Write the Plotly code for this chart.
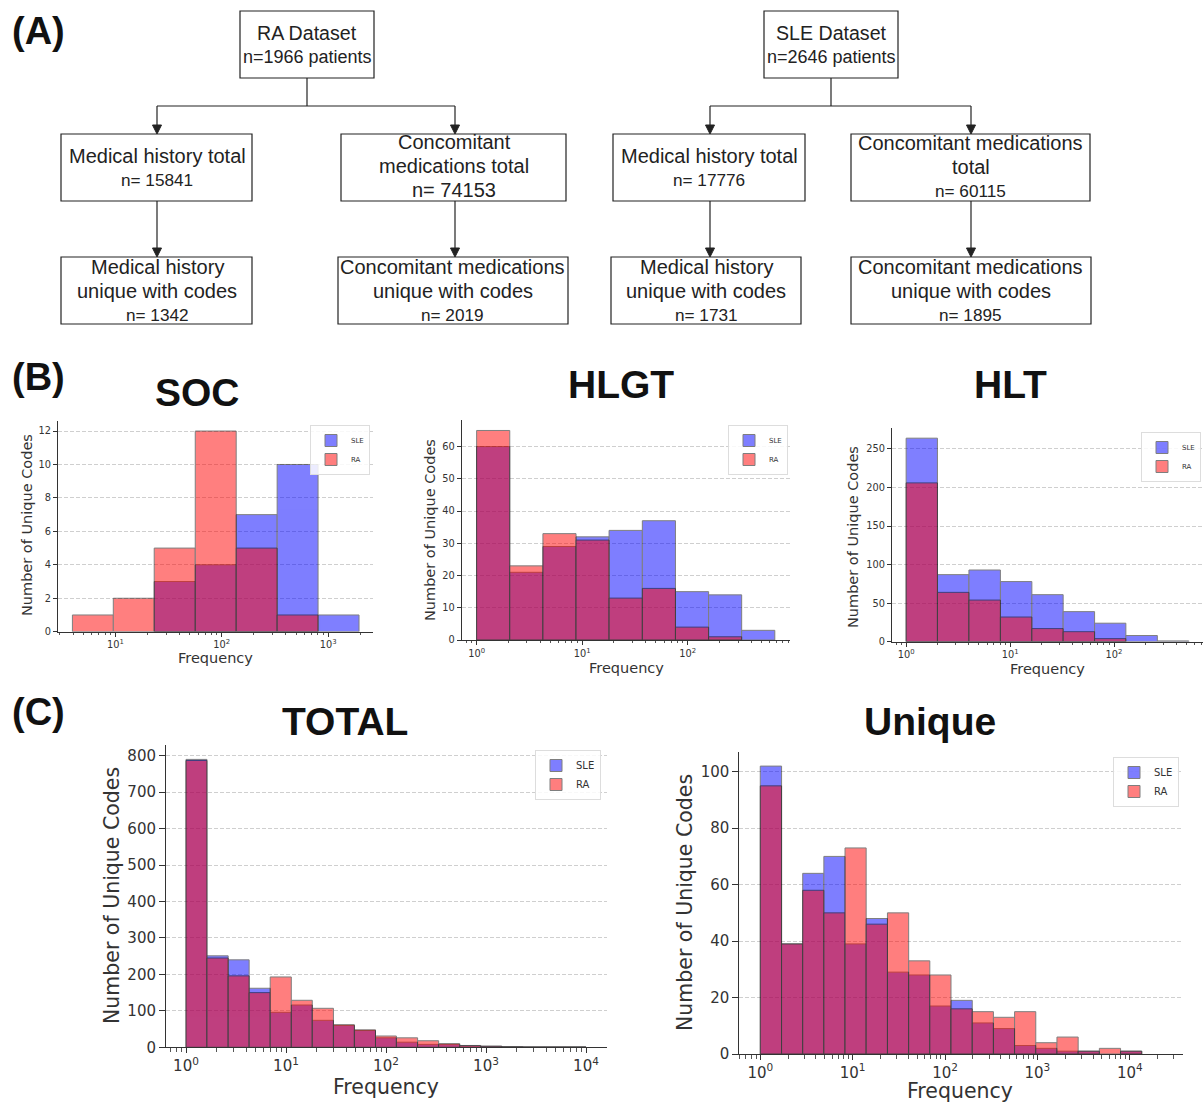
import numpy as np
import plotly.graph_objects as go

W, H = 1203, 1104

# ---------------- DATA ----------------
# Flowchart (A)
ra_dataset = ["RA Dataset", "n=1966 patients"]
ra_mh_total = ["Medical history total", "n= 15841"]
ra_cm_total = ["Concomitant", "medications total", "n= 74153"]
ra_mh_unique = ["Medical history", "unique with codes", "n= 1342"]
ra_cm_unique = ["Concomitant medications", "unique with codes", "n= 2019"]
sle_dataset = ["SLE Dataset", "n=2646 patients"]
sle_mh_total = ["Medical history total", "n= 17776"]
sle_cm_total = ["Concomitant medications", "total", "n= 60115"]
sle_mh_unique = ["Medical history", "unique with codes", "n= 1731"]
sle_cm_unique = ["Concomitant medications", "unique with codes", "n= 1895"]

series_names = ["SLE", "RA"]

# (B) SOC
soc_edges = [3.95, 9.57, 23.2, 56.4, 136.8, 332, 805, 1954]
soc_sle = [0, 0, 3, 4, 7, 10, 1]
soc_ra = [1, 2, 5, 12, 5, 1, 0]
# (B) HLGT
hlgt_edges = [1, 2.06, 4.25, 8.75, 18.0, 37.2, 76.6, 158, 325, 670]
hlgt_sle = [60, 21, 29, 32, 34, 37, 15, 14, 3]
hlgt_ra = [65, 23, 33, 31, 13, 16, 4, 1, 0]
# (B) HLT
hlt_edges = [1, 2.0, 4.02, 8.07, 16.2, 32.4, 65.0, 130, 261, 524]
hlt_sle = [264, 87, 93, 78, 61, 39, 24, 8, 1]
hlt_ra = [206, 64, 54, 32, 17, 13, 4, 0, 0]
# (C) TOTAL
total_edges = [1, 1.62, 2.64, 4.28, 6.95, 11.3, 18.3, 29.8, 48.3, 78.5, 127, 207,
               336, 546, 886, 1438, 2336, 3793, 6158, 10000]
total_sle = [790, 251, 240, 162, 96, 116, 74, 60, 46, 26, 14, 8, 8, 4, 3, 2, 1, 1, 1]
total_ra = [787, 245, 196, 150, 193, 129, 107, 62, 48, 31, 26, 18, 10, 5, 3, 1, 1, 1, 1]
# (C) Unique
unique_edges = [1, 1.70, 2.88, 4.88, 8.27, 14.0, 23.8, 40.4, 68.4, 116, 197, 334,
                566, 960, 1628, 2762, 4684, 7944, 13473]
unique_sle = [102, 39, 64, 70, 39, 48, 29, 28, 17, 19, 11, 9, 3, 2, 1, 1, 0, 1]
unique_ra = [95, 39, 58, 50, 73, 46, 50, 33, 28, 16, 15, 13, 15, 4, 6, 1, 2, 1]

# ---------------- HELPERS ----------------
def fx(x):
    return x / W


def fy(y):
    return 1 - y / H


fig = go.Figure()
shapes = []
annos = []

LINE = "#222222"
FLOW_FONT = "Liberation Sans"
PLOT_FONT = "DejaVu Sans"


def box(x0, y0, x1, y1):
    shapes.append(dict(type="rect", xref="paper", yref="paper",
                       x0=fx(x0), x1=fx(x1), y0=fy(y1), y1=fy(y0),
                       line=dict(color=LINE, width=1.2), fillcolor="rgba(0,0,0,0)"))


def seg(x0, y0, x1, y1):
    shapes.append(dict(type="line", xref="paper", yref="paper",
                       x0=fx(x0), x1=fx(x1), y0=fy(y0), y1=fy(y1),
                       line=dict(color=LINE, width=1.2)))


def arrow(x, y0, y1):
    seg(x, y0, x, y1 - 8)
    path = "M {},{} L {},{} L {},{} Z".format(fx(x - 4.5), fy(y1 - 9), fx(x + 4.5), fy(y1 - 9), fx(x), fy(y1))
    shapes.append(dict(type="path", xref="paper", yref="paper", path=path,
                       fillcolor=LINE, line=dict(color=LINE, width=1)))


def text(x, y, s, size, bold=False, family=FLOW_FONT, angle=0, color="#222222"):
    annos.append(dict(x=fx(x), y=fy(y), xref="paper", yref="paper",
                      text=("<b>%s</b>" % s) if bold else s, showarrow=False,
                      xanchor="center", yanchor="middle", textangle=angle,
                      font=dict(family=family, size=size, color=color)))


def box_text(cx, ys, lines, sizes):
    for yy, ln, sz in zip(ys, lines, sizes):
        text(cx, yy, ln, sz)


# ---------------- (A) FLOWCHART ----------------
TS, NS = 20, 17.2
# RA
box(240, 11, 374, 78)
box_text(307, [33, 57], ra_dataset, [19.6, 18])
seg(307, 78, 307, 106)
seg(157, 106, 455, 106)
arrow(157, 106, 134)
arrow(455, 106, 134)
box(61, 134, 252, 201)
box_text(157, [156, 180], ra_mh_total, [TS, NS])
box(341, 134, 566, 201)
box_text(454, [142, 166, 190], ra_cm_total, [20, 20, 20])
arrow(157, 201, 257)
arrow(455, 201, 257)
box(61, 257, 252, 324)
box_text(157, [267, 291, 315], ra_mh_unique, [TS, TS, NS])
box(338, 257, 568, 324)
box_text(453, [267, 291, 315], ra_cm_unique, [TS, TS, NS])
# SLE
box(764, 11, 898, 78)
box_text(831, [33, 57], sle_dataset, [19.6, 18])
seg(831, 78, 831, 106)
seg(710, 106, 971, 106)
arrow(710, 106, 134)
arrow(971, 106, 134)
box(613, 134, 805, 201)
box_text(709, [156, 180], sle_mh_total, [TS, NS])
box(851, 134, 1090, 201)
box_text(971, [143, 167, 191], sle_cm_total, [TS, TS, NS])
arrow(710, 201, 257)
arrow(971, 201, 257)
box(611, 257, 801, 324)
box_text(706, [267, 291, 315], sle_mh_unique, [TS, TS, NS])
box(851, 257, 1091, 324)
box_text(971, [267, 291, 315], sle_cm_unique, [TS, TS, NS])

# Panel letters
text(38, 31, "(A)", 38, bold=True, color="#111111")
text(38, 377, "(B)", 38, bold=True, color="#111111")
text(38, 712, "(C)", 38, bold=True, color="#111111")


# ---------------- HISTOGRAMS ----------------
def minor_vals(lo, hi):
    vals = []
    for d in range(int(np.floor(lo)) - 1, int(np.ceil(hi)) + 1):
        for m in range(2, 10):
            v = d + np.log10(m)
            if lo <= v <= hi:
                vals.append(v)
    return vals


def add_hist(edges, counts, color, name, xa, ya, leg):
    le = np.log10(np.array(edges, dtype=float))
    xs, ws, ys = [], [], []
    for i, c in enumerate(counts):
        if c > 0:
            xs.append((le[i] + le[i + 1]) / 2)
            ws.append(le[i + 1] - le[i])
            ys.append(c)
    fig.add_trace(go.Bar(x=xs, y=ys, width=ws, name=name, xaxis=xa, yaxis=ya,
                         legend=leg, opacity=0.5,
                         marker=dict(color=color, line=dict(color="black", width=1)),
                         hoverinfo="x+y+name"))


panels = [
    dict(k="", title="SOC", edges=soc_edges, sle=soc_sle, ra=soc_ra,
         dx=(58, 373.4), dy=(421, 631.7), xr=(0.461, 3.426), ymax=12.6, dt=2,
         tick=9.8, lab=14.5, legf=7, tpos=(197, 392), ylab=(27, 525), xlab=(215, 658),
         leg=(370, 425)),
    dict(k="2", title="HLGT", edges=hlgt_edges, sle=hlgt_sle, ra=hlgt_ra,
         dx=(461.7, 790), dy=(420, 640), xr=(-0.1415, 2.97), ymax=68.25, dt=10,
         tick=9.8, lab=14.5, legf=7, tpos=(621, 385), ylab=(430, 530), xlab=(626, 668),
         leg=(788, 425)),
    dict(k="3", title="HLT", edges=hlt_edges, sle=hlt_sle, ra=hlt_ra,
         dx=(892, 1203), dy=(428, 641.7), xr=(-0.136, 2.856), ymax=277.2, dt=50,
         tick=9.8, lab=14.5, legf=7, tpos=(1011, 385), ylab=(853, 537), xlab=(1047, 669),
         leg=(1201, 432)),
    dict(k="4", title="TOTAL", edges=total_edges, sle=total_sle, ra=total_ra,
         dx=(166, 607), dy=(745, 1047.3), xr=(-0.2, 4.21), ymax=829.5, dt=100,
         tick=15, lab=20.5, legf=10, tpos=(345, 721), ylab=(112, 896), xlab=(386, 1087),
         leg=(601, 750)),
    dict(k="5", title="Unique", edges=unique_edges, sle=unique_sle, ra=unique_ra,
         dx=(739.4, 1183), dy=(751.7, 1054), xr=(-0.226, 4.576), ymax=107.1, dt=20,
         tick=15, lab=20.5, legf=10, tpos=(930, 721), ylab=(685, 903), xlab=(960, 1090.5),
         leg=(1179, 757)),
]

layout_axes = {}
for i, p in enumerate(panels):
    k = p["k"]
    xa, ya = "x" + k, "y" + k
    leg = "legend" + k
    add_hist(p["edges"], p["sle"], "blue", series_names[0], xa, ya, leg)
    add_hist(p["edges"], p["ra"], "red", series_names[1], xa, ya, leg)
    lo, hi = p["xr"]
    majors = [d for d in range(int(np.floor(lo)), int(np.ceil(hi)) + 1) if lo <= d <= hi]
    small = p["tick"] < 12
    layout_axes["xaxis" + k] = dict(
        domain=[fx(p["dx"][0]), fx(p["dx"][1])], anchor=ya, range=[lo, hi],
        tickmode="array", tickvals=majors,
        ticktext=["10<sup>%d</sup>" % d for d in majors],
        showline=True, linecolor="#333333", linewidth=1, mirror=False,
        ticks="outside", ticklen=4 if small else 4.5, tickcolor="#333333", tickwidth=1,
        showgrid=False, zeroline=False, automargin=False,
        tickfont=dict(family=PLOT_FONT, size=p["tick"], color="#333333"),
        minor=dict(tickmode="array", tickvals=minor_vals(lo, hi), ticks="outside",
                   ticklen=2 if small else 3.5, tickcolor="#555555", tickwidth=0.8,
                   showgrid=False),
    )
    layout_axes["yaxis" + k] = dict(
        domain=[fy(p["dy"][1]), fy(p["dy"][0])], anchor=xa, range=[0, p["ymax"]],
        dtick=p["dt"], tick0=0,
        showline=True, linecolor="#333333", linewidth=1, mirror=False,
        ticks="outside", ticklen=4 if small else 6, tickcolor="#333333", tickwidth=1,
        showgrid=True, gridcolor="#cfcfcf", griddash="4px,2px", gridwidth=0.8,
        zeroline=False, automargin=False,
        tickfont=dict(family=PLOT_FONT, size=p["tick"], color="#333333"),
    )
    layout_axes[leg] = dict(
        x=fx(p["leg"][0]), y=fy(p["leg"][1]), xanchor="right", yanchor="top",
        xref="paper", yref="paper",
        bgcolor="rgba(255,255,255,0.85)", bordercolor="#dddddd", borderwidth=1,
        font=dict(family=PLOT_FONT, size=p["legf"], color="#333333"),
        tracegroupgap=0, itemwidth=30,
    )
    text(p["tpos"][0], p["tpos"][1], p["title"], 39, bold=True, family=FLOW_FONT, color="#111111")
    text(p["ylab"][0], p["ylab"][1], "Number of Unique Codes", p["lab"], family=PLOT_FONT,
         angle=-90, color="#333333")
    text(p["xlab"][0], p["xlab"][1], "Frequency", p["lab"], family=PLOT_FONT, color="#333333")

fig.update_layout(
    width=W, height=H, margin=dict(l=0, r=0, t=0, b=0, pad=0, autoexpand=False),
    paper_bgcolor="white", plot_bgcolor="white",
    barmode="overlay", showlegend=True,
    shapes=shapes, annotations=annos,
    **layout_axes,
)

page_fix = (
    "var hs=document.documentElement.style;hs.margin='0';hs.padding='0';hs.overflow='hidden';"
    "hs.height='%dpx';"
    "var bs=document.body.style;bs.margin='0';bs.padding='0';bs.overflow='hidden';bs.height='%dpx';"
    "var g=document.getElementsByClassName('plotly-graph-div')[0];"
    "if(g){g.style.position='fixed';g.style.left='0px';g.style.top='0px';}"
) % (H, H)

fig.write_html("out.html", config={"displayModeBar": False}, post_script=page_fix)
